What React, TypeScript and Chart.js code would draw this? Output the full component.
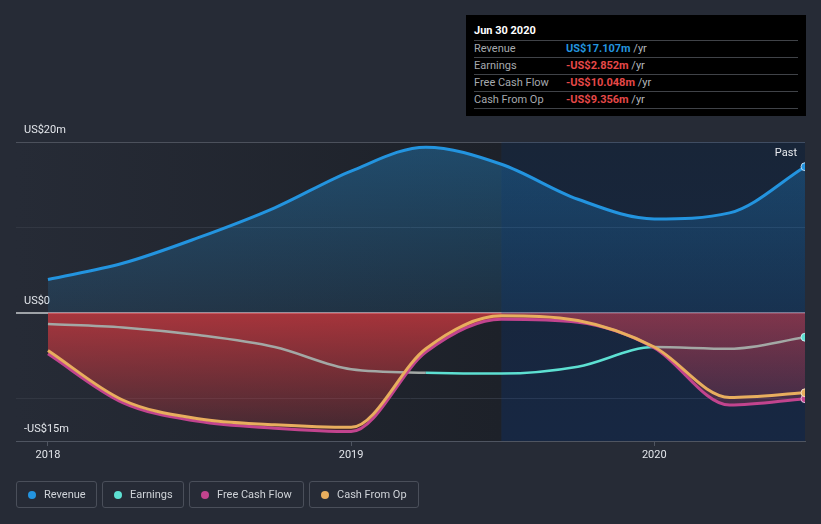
import React, { useEffect, useRef } from "react";
import { Chart, registerables } from "chart.js";

Chart.register(...registerables);

// ---- data ----
const dates = [
  "2017-12-31", "2018-03-31", "2018-06-30", "2018-09-30", "2018-12-31",
  "2019-03-31", "2019-06-30", "2019-09-30", "2019-12-31", "2020-03-31", "2020-06-30",
];
const revenue = [3.9, 5.8, 8.8, 12.3, 16.6, 19.4, 17.4, 13.3, 11.0, 11.7, 17.107];
const earnings = [-1.3, -1.7, -2.6, -4.0, -6.6, -7.0, -7.1, -6.3, -4.0, -4.2, -2.852];
const freeCashFlow = [-4.8, -10.5, -12.7, -13.5, -13.9, -4.6, -0.75, -1.1, -4.1, -10.8, -10.048];
const cashFromOp = [-4.4, -10.2, -12.4, -13.1, -13.4, -4.2, -0.35, -0.9, -4.0, -9.9, -9.356];

const xTicks = [2018, 2019, 2020];
const yTicks = [-15, -10, 0, 10, 20];
const yTickLabels = ["-US$15m", "", "US$0", "", "US$20m"];
const yMin = -15;
const yMax = 20;
const xMin = 2017.8946;
const bandStartDate = "2019-06-30";

const infoTitle = "Jun 30 2020";
const infoRows = [
  { label: "Revenue", value: "US$17.107m", color: "#2394df" },
  { label: "Earnings", value: "-US$2.852m", color: "#e64848" },
  { label: "Free Cash Flow", value: "-US$10.048m", color: "#e64848" },
  { label: "Cash From Op", value: "-US$9.356m", color: "#e64848" },
];

const COLORS = {
  revenue: "#2394df",
  earnings: "#5de0d2",
  earningsGray: "#a3a8a5",
  fcf: "#c2448e",
  cfo: "#e8ae5e",
};

const legendItems = [
  { label: "Revenue", color: COLORS.revenue, width: 81 },
  { label: "Earnings", color: COLORS.earnings, width: 82 },
  { label: "Free Cash Flow", color: COLORS.fcf, width: 115 },
  { label: "Cash From Op", color: COLORS.cfo, width: 110 },
];

function toYear(s: string): number {
  const d = new Date(s + "T00:00:00Z");
  const y = d.getUTCFullYear();
  const start = Date.UTC(y, 0, 1);
  const end = Date.UTC(y + 1, 0, 1);
  return y + (d.getTime() + 86400000 - start) / (end - start);
}

const xs = dates.map(toYear);
const xMax = xs[xs.length - 1];
const bandStart = toYear(bandStartDate);

function pts(vals: number[]) {
  return vals.map((v, i) => ({ x: xs[i], y: v }));
}

const lastIdx = dates.length - 1;
const endRadius = (ctx: any) => (ctx.dataIndex === lastIdx ? 4 : 0);

const bgPlugin = {
  id: "bgPlugin",
  beforeDraw(chart: any) {
    const { ctx, chartArea } = chart;
    if (!chartArea) return;
    const { left, top, right, bottom } = chartArea;
    const bx = chart.scales.x.getPixelForValue(bandStart);
    ctx.save();
    const g = ctx.createLinearGradient(left, 0, bx, 0);
    g.addColorStop(0, "#262b36");
    g.addColorStop(1, "#1d2129");
    ctx.fillStyle = g;
    ctx.fillRect(left, top, bx - left, bottom - top);
    ctx.fillStyle = "#1b1f27";
    ctx.fillRect(bx, top, right - bx, bottom - top);
    ctx.restore();
  },
  beforeDatasetsDraw(chart: any) {
    const { ctx, chartArea } = chart;
    if (!chartArea) return;
    const { top, right, bottom } = chartArea;
    const bx = chart.scales.x.getPixelForValue(bandStart);
    ctx.save();
    const g = ctx.createLinearGradient(0, top, 0, bottom);
    g.addColorStop(0, "rgba(12,61,124,0.2)");
    g.addColorStop(1, "rgba(12,61,140,0.27)");
    ctx.fillStyle = g;
    ctx.fillRect(bx, top, right - bx, bottom - top);
    ctx.restore();
  },
  afterDraw(chart: any) {
    const { ctx, chartArea } = chart;
    if (!chartArea) return;
    ctx.save();
    ctx.font = "11px Roboto";
    ctx.fillStyle = "#e8eaee";
    ctx.textAlign = "right";
    ctx.textBaseline = "middle";
    ctx.fillText("Past", chartArea.right - 8, chartArea.top + 11);
    ctx.restore();
  },
};

export default function App() {
  const ref = useRef<HTMLCanvasElement | null>(null);

  useEffect(() => {
    if (!ref.current) return;
    Chart.defaults.font.family = "Roboto";
    const revenueFill = (c: any) => {
      const chart = c.chart;
      if (!chart.chartArea) return "rgba(35,148,223,0.2)";
      const y = chart.scales.y;
      const g = chart.ctx.createLinearGradient(0, y.getPixelForValue(yMax), 0, y.getPixelForValue(0));
      g.addColorStop(0, "rgba(35,148,223,0.36)");
      g.addColorStop(1, "rgba(35,148,223,0.13)");
      return g;
    };
    const lossFill = (c: any) => {
      const chart = c.chart;
      if (!chart.chartArea) return "rgba(215,60,65,0.5)";
      const y = chart.scales.y;
      const g = chart.ctx.createLinearGradient(0, y.getPixelForValue(0), 0, y.getPixelForValue(yMin));
      g.addColorStop(0, "rgba(218,58,64,0.72)");
      g.addColorStop(1, "rgba(218,58,64,0.14)");
      return g;
    };
    const chart = new Chart(ref.current, {
      type: "line",
      data: {
        datasets: [
          {
            label: "Revenue",
            data: pts(revenue),
            borderColor: COLORS.revenue,
            borderWidth: 3,
            backgroundColor: revenueFill,
            fill: "origin",
            cubicInterpolationMode: "monotone",
            pointRadius: endRadius,
            pointHoverRadius: 0,
            pointBackgroundColor: COLORS.revenue,
            pointBorderColor: "rgba(220,235,250,0.8)",
            pointBorderWidth: 1,
            clip: 0,
            order: 0,
          },
          {
            label: "Earnings",
            data: pts(earnings),
            borderColor: COLORS.earnings,
            borderWidth: 2.5,
            fill: false,
            cubicInterpolationMode: "monotone",
            segment: {
              borderColor: (ctx: any) =>
                earnings[ctx.p0DataIndex] > freeCashFlow[ctx.p0DataIndex]
                  ? COLORS.earningsGray
                  : COLORS.earnings,
            },
            pointRadius: endRadius,
            pointHoverRadius: 0,
            pointBackgroundColor: COLORS.earnings,
            pointBorderColor: "rgba(220,250,250,0.8)",
            pointBorderWidth: 1,
            clip: 0,
            order: 3,
          },
          {
            label: "Free Cash Flow",
            data: pts(freeCashFlow),
            borderColor: COLORS.fcf,
            borderWidth: 3,
            backgroundColor: lossFill,
            fill: "origin",
            cubicInterpolationMode: "monotone",
            pointRadius: endRadius,
            pointHoverRadius: 0,
            pointBackgroundColor: COLORS.fcf,
            pointBorderColor: "rgba(240,220,240,0.8)",
            pointBorderWidth: 1,
            clip: 0,
            order: 2,
          },
          {
            label: "Cash From Op",
            data: pts(cashFromOp),
            borderColor: COLORS.cfo,
            borderWidth: 3,
            fill: false,
            cubicInterpolationMode: "monotone",
            pointRadius: endRadius,
            pointHoverRadius: 0,
            pointBackgroundColor: COLORS.cfo,
            pointBorderColor: "rgba(250,240,220,0.8)",
            pointBorderWidth: 1,
            clip: 0,
            order: 1,
          },
        ],
      },
      options: {
        responsive: false,
        animation: false,
        devicePixelRatio: 1,
        events: [],
        layout: { padding: { left: 16, right: 16, top: 142, bottom: 53 } },
        plugins: {
          legend: { display: false },
          tooltip: { enabled: false },
          filler: { drawTime: "beforeDatasetsDraw" },
        },
        scales: {
          x: {
            type: "linear",
            min: xMin,
            max: xMax,
            afterBuildTicks: (s: any) => {
              s.ticks = xTicks.map((v) => ({ value: v }));
            },
            afterFit: (s: any) => {
              s.height = 30;
            },
            ticks: {
              callback: (v: any) => String(v),
              color: "#e2e5ea",
              font: { size: 11, family: "Roboto" },
              padding: 3,
              maxRotation: 0,
              autoSkip: false,
            },
            grid: {
              drawOnChartArea: false,
              drawTicks: true,
              tickLength: 5,
              color: "#4f5561",
            },
            border: { display: true, color: "#4f5561", width: 1 },
          },
          y: {
            type: "linear",
            min: yMin,
            max: yMax,
            z: 1,
            afterBuildTicks: (s: any) => {
              s.ticks = yTicks.map((v) => ({ value: v }));
            },
            afterFit: (s: any) => {
              s.width = 0;
            },
            ticks: {
              callback: (v: any) => {
                const i = yTicks.indexOf(Number(v));
                return i >= 0 ? yTickLabels[i] : "";
              },
              mirror: true,
              padding: 8,
              labelOffset: -12,
              color: "#e2e5ea",
              font: { size: 11, family: "Roboto" },
              autoSkip: false,
            },
            grid: {
              drawTicks: false,
              color: (c: any) => {
                const v = c.tick ? c.tick.value : null;
                if (v === 0) return "#9ea2a7";
                if (v === yMax || v === yMin) return "#4c515c";
                return "#323742";
              },
              lineWidth: (c: any) => (c.tick && c.tick.value === 0 ? 2 : 1),
            },
            border: { display: false },
          },
        },
      } as any,
      plugins: [bgPlugin],
    } as any);
    return () => chart.destroy();
  }, []);

  return (
    <div
      style={{
        position: "absolute",
        left: 0,
        top: 0,
        width: 821,
        height: 524,
        background: "#262b36",
        overflow: "hidden",
        fontFamily: "Roboto, sans-serif",
      }}
    >
      <canvas
        ref={ref}
        width={821}
        height={524}
        style={{ position: "absolute", left: 0, top: 0, width: 821, height: 524 }}
      />
      <div
        style={{
          position: "absolute",
          left: 466,
          top: 15,
          width: 340,
          height: 101,
          background: "#000000",
        }}
      >
        <div
          style={{
            position: "absolute",
            left: 8,
            top: 8,
            height: 16,
            lineHeight: "16px",
            fontSize: 11,
            fontWeight: 700,
            color: "#ffffff",
          }}
        >
          {infoTitle}
        </div>
        {infoRows.map((r, i) => (
          <div
            key={r.label}
            style={{
              position: "absolute",
              left: 8,
              top: 25 + i * 17,
              width: 324,
              height: 16,
              borderTop: "1px solid #404348",
              borderBottom: i === infoRows.length - 1 ? "1px solid #404348" : "none",
              fontSize: 11,
              lineHeight: "16px",
            }}
          >
            <span style={{ position: "absolute", left: 0, top: 0, color: "#a6a9ae" }}>{r.label}</span>
            <span style={{ position: "absolute", left: 92, top: 0, whiteSpace: "nowrap" }}>
              <span style={{ color: r.color, fontWeight: 700 }}>{r.value}</span>
              <span style={{ color: "#b4b7bc" }}> /yr</span>
            </span>
          </div>
        ))}
      </div>
      <div
        style={{
          position: "absolute",
          left: 16,
          top: 481,
          display: "flex",
          gap: 5,
        }}
      >
        {legendItems.map((it) => (
          <div
            key={it.label}
            style={{
              boxSizing: "border-box",
              width: it.width,
              height: 27,
              border: "1px solid #4a4f5a",
              borderRadius: 3,
              display: "flex",
              alignItems: "center",
              paddingLeft: 11,
              fontSize: 11,
              color: "#cfd3d8",
              whiteSpace: "nowrap",
            }}
          >
            <span
              style={{
                display: "inline-block",
                width: 8,
                height: 8,
                borderRadius: 4,
                background: it.color,
                marginRight: 8,
              }}
            />
            {it.label}
          </div>
        ))}
      </div>
    </div>
  );
}
